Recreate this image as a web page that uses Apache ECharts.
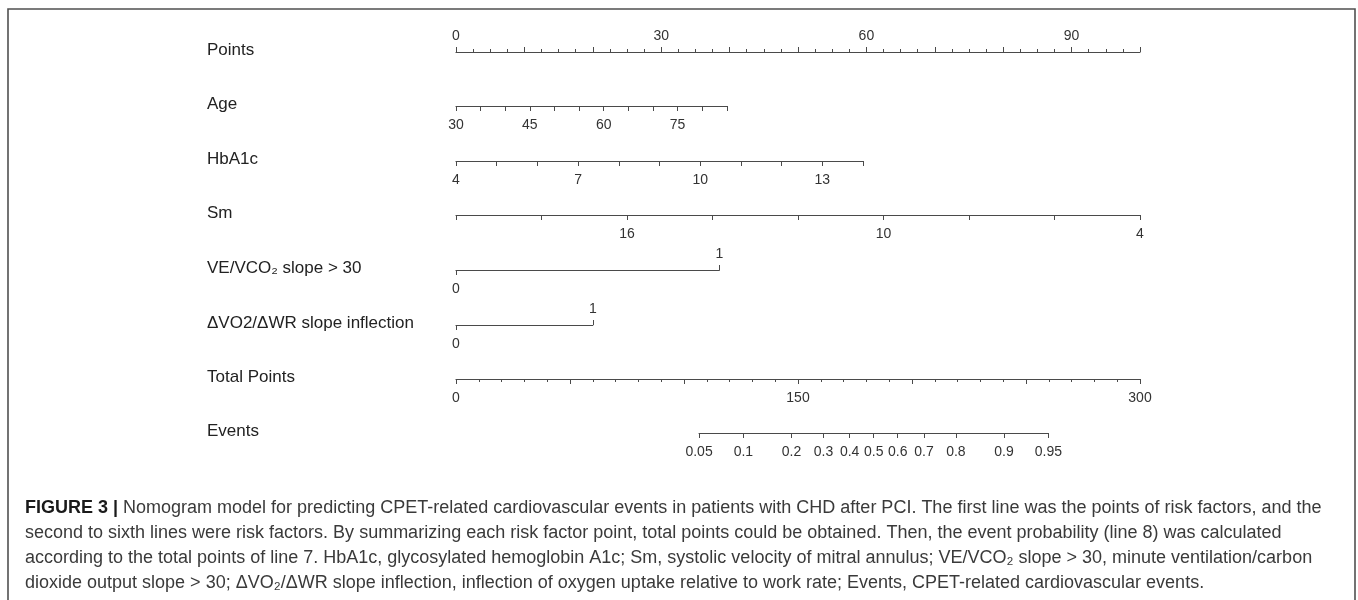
<!DOCTYPE html>
<html>
<head>
<meta charset="utf-8">
<title>Nomogram</title>
<script src="https://cdn.jsdelivr.net/npm/echarts@6/dist/echarts.min.js"></script>
<style>
html, body { margin: 0; padding: 0; background: #fff; }
#main { width: 1358px; height: 600px; }
</style>
</head>
<body>
<div id="main"></div>
<script>
// row names
var rowNames = ['Points', 'Age', 'HbA1c', 'Sm', 'VE/VCO₂ slope > 30', 'ΔVO2/ΔWR slope inflection', 'Total Points', 'Events'];

// points scale
var pointsRange = [0, 100];
var pointsLabels = [0, 30, 60, 90];

// age
var ageRange = [30, 85];
var ageLabels = [30, 45, 60, 75];
var agePoints = 39.6;

// HbA1c
var hba1cRange = [4, 14];
var hba1cLabels = [4, 7, 10, 13];
var hba1cPoints = 59.5;

// Sm (reversed: 20 -> 0 points, 4 -> 100 points)
var smRange = [4, 20];
var smLabels = [16, 10, 4];
var smPoints = 100;

// binary factors
var veLevels = [0, 1];
var vePoints = 38.5;
var dvoLevels = [0, 1];
var dvoPoints = 20;

// total points
var totalRange = [0, 300];
var totalLabels = [0, 150, 300];

// events probability, total points read at 0.05 and 0.95
var eventProbs = [0.05, 0.1, 0.2, 0.3, 0.4, 0.5, 0.6, 0.7, 0.8, 0.9, 0.95];
var eventTotalPoints = [106.6, 259.8];

var FONT = '"Liberation Sans", Arial, Helvetica, sans-serif';
var LINE_COLOR = '#4a4a4a';
var LABEL_COLOR = '#333';

function logit(p) {
    return Math.log(p / (1 - p));
}

function Nomogram(dom) {
    this.chart = echarts.init(dom);
    this.init();
}
Nomogram.prototype = {
    constructor: Nomogram,
    // layout
    plotLeft: 456,
    plotWidth: 684,
    rowY: [52, 106, 161, 215, 270, 325, 379, 433],
    init: function () {
        var that = this;
        that.grids = [];
        that.xAxes = [];
        that.yAxes = [];
        that.buildRows();
        that.chart.setOption({
            animation: false,
            backgroundColor: '#fff',
            grid: that.grids,
            xAxis: that.xAxes,
            yAxis: that.yAxes,
            series: [],
            graphic: that.buildGraphic()
        });
    },
    // 行的网格
    addGrid: function (row, left, width, top) {
        this.grids.push({
            left: left,
            width: width,
            top: top,
            height: 10,
            outerBoundsMode: 'none',
            containLabel: false
        });
        this.yAxes.push({ gridIndex: row, type: 'value', show: false, min: 0, max: 1 });
        return this.grids.length - 1;
    },
    // 轴样式
    axis: function (gridIndex, opt) {
        var top = opt.position === 'top';
        var a = {
            gridIndex: gridIndex,
            type: 'value',
            position: 'bottom',
            splitLine: { show: false },
            axisLine: { show: true, onZero: false, lineStyle: { color: LINE_COLOR, width: 1.2 } },
            axisTick: { show: true, length: 5, lineStyle: { color: LINE_COLOR, width: 1 } },
            axisLabel: {
                show: true, margin: top ? 9 : 12, color: LABEL_COLOR, fontSize: 14,
                fontFamily: FONT, hideOverlap: false
            }
        };
        for (var k in opt) {
            if (typeof opt[k] === 'object' && !Array.isArray(opt[k]) && a[k]) {
                for (var j in opt[k]) a[k][j] = opt[k][j];
            } else {
                a[k] = opt[k];
            }
        }
        return a;
    },
    spanWidth: function (pts) {
        return this.plotWidth * pts / (pointsRange[1] - pointsRange[0]);
    },
    buildRows: function () {
        var that = this;
        var y = that.rowY;
        var g;

        // Points
        g = that.addGrid(0, that.plotLeft, that.plotWidth, y[0]);
        that.xAxes.push(that.axis(g, {
            position: 'top', min: pointsRange[0], max: pointsRange[1], interval: 10,
            minorTick: { show: true, splitNumber: 4, length: 3, lineStyle: { color: LINE_COLOR } },
            axisLabel: { customValues: pointsLabels }
        }));

        // Age
        g = that.addGrid(1, that.plotLeft, that.spanWidth(agePoints), y[1] - 10);
        that.xAxes.push(that.axis(g, {
            min: ageRange[0], max: ageRange[1], interval: 5,
            axisLabel: { customValues: ageLabels }
        }));

        // HbA1c
        g = that.addGrid(2, that.plotLeft, that.spanWidth(hba1cPoints), y[2] - 10);
        that.xAxes.push(that.axis(g, {
            min: hba1cRange[0], max: hba1cRange[1], interval: 1,
            axisLabel: { customValues: hba1cLabels }
        }));

        // Sm
        g = that.addGrid(3, that.plotLeft, that.spanWidth(smPoints), y[3] - 10);
        that.xAxes.push(that.axis(g, {
            min: smRange[0], max: smRange[1], interval: 2, inverse: true,
            axisLabel: { customValues: smLabels }
        }));

        // binary rows
        that.binaryRow(4, veLevels, vePoints, y[4]);
        that.binaryRow(5, dvoLevels, dvoPoints, y[5]);

        // Total Points
        g = that.addGrid(6, that.plotLeft, that.plotWidth, y[6] - 10);
        that.xAxes.push(that.axis(g, {
            min: totalRange[0], max: totalRange[1], interval: 50,
            minorTick: { show: true, splitNumber: 5, length: 3, lineStyle: { color: LINE_COLOR } },
            axisLabel: { customValues: totalLabels }
        }));

        // Events
        var tpScale = that.plotWidth / (totalRange[1] - totalRange[0]);
        var evLeft = that.plotLeft + (eventTotalPoints[0] - totalRange[0]) * tpScale;
        var evWidth = (eventTotalPoints[1] - eventTotalPoints[0]) * tpScale;
        var evLogits = eventProbs.map(logit);
        g = that.addGrid(7, evLeft, evWidth, y[7] - 10);
        that.xAxes.push(that.axis(g, {
            min: logit(eventProbs[0]), max: logit(eventProbs[eventProbs.length - 1]),
            axisTick: { customValues: evLogits },
            axisLabel: {
                customValues: evLogits,
                formatter: function (v) {
                    var p = 1 / (1 + Math.exp(-v));
                    return String(parseFloat(p.toFixed(2)));
                }
            }
        }));
    },
    // 二分类变量
    binaryRow: function (row, levels, pts, lineY) {
        var that = this;
        var g = that.addGrid(row, that.plotLeft, that.spanWidth(pts), lineY - 10);
        that.xAxes.push(that.axis(g, {
            min: levels[0], max: levels[1],
            axisTick: { customValues: [levels[0]] },
            axisLabel: { customValues: [levels[0]] }
        }));
        that.xAxes.push(that.axis(g, {
            position: 'top', offset: -10, min: levels[0], max: levels[1],
            axisLine: { show: false },
            axisTick: { customValues: [levels[1]] },
            axisLabel: { customValues: [levels[1]] }
        }));
    },
    buildGraphic: function () {
        var that = this;
        var els = [];
        // frame
        els.push({
            type: 'rect', shape: { x: 8, y: 9, width: 1347, height: 640 },
            style: { fill: null, stroke: '#505050', lineWidth: 1.6 }, silent: true
        });
        // row names
        rowNames.forEach(function (name, i) {
            els.push({
                type: 'text', x: 207, y: that.rowY[i] - 2,
                style: {
                    text: name, fontSize: 17, fontFamily: FONT, fill: '#222',
                    verticalAlign: 'middle', align: 'left'
                }
            });
        });
        // caption
        var caption = [
            '{b|FIGURE 3 |} Nomogram model for predicting CPET-related cardiovascular events in patients with CHD after PCI. The first line was the points of risk factors, and the',
            'second to sixth lines were risk factors. By summarizing each risk factor point, total points could be obtained. Then, the event probability (line 8) was calculated',
            'according to the total points of line 7. HbA1c, glycosylated hemoglobin A1c; Sm, systolic velocity of mitral annulus; VE/VCO₂ slope > 30, minute ventilation/carbon',
            'dioxide output slope > 30; ΔVO₂/ΔWR slope inflection, inflection of oxygen uptake relative to work rate; Events, CPET-related cardiovascular events.'
        ].join('\n');
        els.push({
            type: 'text', x: 25, y: 496,
            style: {
                text: caption, fontSize: 18, lineHeight: 25, fontFamily: FONT, fill: '#3a3a3a',
                verticalAlign: 'top', align: 'left',
                rich: {
                    b: { fontSize: 18, lineHeight: 25, fontWeight: 'bold', fontFamily: FONT, fill: '#1a1a1a' }
                }
            }
        });
        return els;
    }
};

var NomogramIns = new Nomogram(document.getElementById('main'));
</script>
</body>
</html>
